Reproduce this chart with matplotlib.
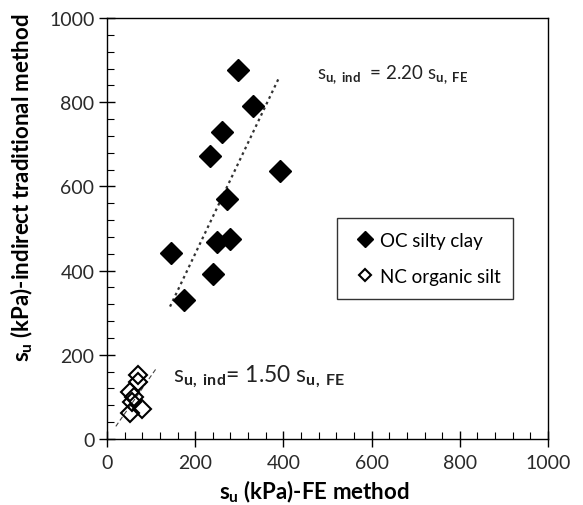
import matplotlib
matplotlib.use("Agg")
import matplotlib.pyplot as plt
import numpy as np
from matplotlib.ticker import MultipleLocator

plt.rcParams['font.family'] = ['Lato', 'DejaVu Sans']
plt.rcParams['mathtext.fontset'] = 'custom'
plt.rcParams['mathtext.rm'] = 'Lato'
plt.rcParams['mathtext.it'] = 'Lato'
plt.rcParams['mathtext.bf'] = 'Lato:bold'

# OC silty clay (filled diamonds)
oc_fe = [298, 332, 261, 234, 392, 271, 249, 279, 145, 241, 175]
oc_ind = [876, 791, 730, 673, 637, 571, 467, 475, 442, 393, 330]

# NC organic silt (open diamonds)
nc_fe = [71, 71, 52, 62, 56, 79, 52]
nc_ind = [152, 135, 112, 100, 88, 72, 62]

# fitted lines
oc_slope = 2.20
oc_fit_x = [143, 390]
nc_slope = 1.50
nc_fit_x = [20, 112]

fig = plt.figure(figsize=(5.83, 5.06), dpi=100)
ax = fig.add_axes([0.1835, 0.1304, 0.7565, 0.8321])

ax.plot(oc_fit_x, [oc_slope * v for v in oc_fit_x], linestyle=(0, (1.2, 1.6)),
        color='#333333', lw=1.6, zorder=2)
ax.plot(nc_fit_x, [nc_slope * v for v in nc_fit_x], linestyle=(0, (4, 2.5)),
        color='#444444', lw=0.8, zorder=2)

ax.plot(oc_fe, oc_ind, linestyle='none', marker='D', ms=11, mfc='black',
        mec='black', label='OC silty clay', zorder=3)
ax.plot(nc_fe, nc_ind, linestyle='none', marker='D', ms=9, mfc='none',
        mec='black', mew=1.5, label='NC organic silt', zorder=3)

ax.set_xlim(0, 1000)
ax.set_ylim(0, 1000)
ax.xaxis.set_major_locator(MultipleLocator(200))
ax.yaxis.set_major_locator(MultipleLocator(200))
ax.xaxis.set_minor_locator(MultipleLocator(40))
ax.yaxis.set_minor_locator(MultipleLocator(40))
ax.tick_params(which='major', direction='inout', length=12, width=1, labelsize=14,
               colors='black', labelcolor='#2a2a2a')
ax.tick_params(axis='y', which='major', pad=3)
ax.tick_params(axis='x', which='major', pad=5)
ax.tick_params(which='minor', direction='in', length=5, width=0.8)
for s in ax.spines.values():
    s.set_linewidth(1.0)
    s.set_color('black')

ax.set_xlabel(r'$\mathbf{s_u}$ (kPa)-FE method', fontsize=16, fontweight='bold')
ax.set_ylabel(r'$\mathbf{s_u}$ (kPa)-indirect traditional method', fontsize=16,
              fontweight='bold')
ax.xaxis.set_label_coords(0.469, -0.093)
ax.yaxis.set_label_coords(-0.163, 0.60)

ax.text(0.4755, 0.867, r'$\mathregular{s}_{\mathbf{u,\ ind}}$  = 2.20 $\mathregular{s}_{\mathbf{u,\ FE}}$',
        transform=ax.transAxes, fontsize=13.5, ha='left', va='center', color='#222222')
ax.text(0.15, 0.15, r'$\mathregular{s}_{\mathbf{u,\ ind}}$= 1.50 $\mathregular{s}_{\mathbf{u,\ FE}}$',
        transform=ax.transAxes, fontsize=16.5, ha='left', va='center', color='#222222')

leg = ax.legend(loc='upper left', bbox_to_anchor=(0.521, 0.325, 0.4005, 0.2), mode='expand',
                borderaxespad=0, frameon=True, fancybox=False, edgecolor='black',
                fontsize=13.5, handlelength=1.5, handletextpad=0.05, borderpad=0.75,
                labelspacing=1.0, markerscale=0.72)
leg.get_frame().set_linewidth(1.0)

fig.savefig('out.png', dpi=100)
